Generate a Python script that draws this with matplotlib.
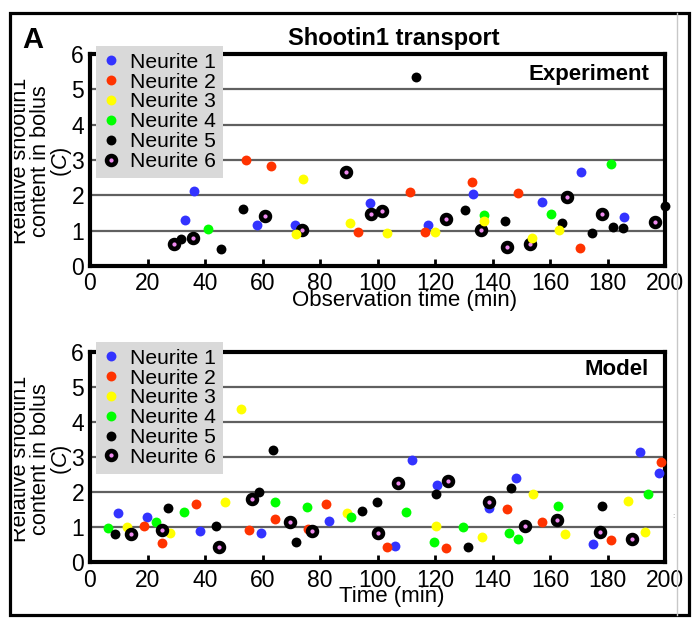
import matplotlib
matplotlib.use('Agg')
import matplotlib.pyplot as plt
from matplotlib.patches import Rectangle
from matplotlib.lines import Line2D
from matplotlib.transforms import Bbox, TransformedBbox

plt.rcParams['font.family'] = ['Liberation Sans', 'DejaVu Sans']
plt.rcParams['mathtext.fontset'] = 'custom'
plt.rcParams['mathtext.it'] = 'Liberation Sans:italic'
plt.rcParams['mathtext.rm'] = 'Liberation Sans'

# ---------------- data ----------------
labels = ['Neurite 1', 'Neurite 2', 'Neurite 3', 'Neurite 4', 'Neurite 5', 'Neurite 6']
colors = ['#3333FF', '#FF3300', '#FFFF00', '#00FF00', '#000000', '#F08AF0']
x_ticks = [0, 20, 40, 60, 80, 100, 120, 140, 160, 180, 200]
y_ticks = [0, 1, 2, 3, 4, 5, 6]

# Experiment (observation time in min, relative content C)
exp_n1_t = [33.2, 36.2, 58.1, 71.2, 97.5, 117.4, 133.1, 157.3, 170.8, 185.6]
exp_n1_c = [1.30, 2.12, 1.15, 1.15, 1.77, 1.15, 2.04, 1.82, 2.67, 1.40]
exp_n2_t = [54.3, 63.0, 93.1, 111.2, 116.4, 133.0, 148.9, 170.4]
exp_n2_c = [3.00, 2.84, 0.96, 2.09, 0.97, 2.38, 2.07, 0.52]
exp_n3_t = [71.8, 74.0, 90.3, 103.2, 120.1, 137.2, 153.7, 163.3]
exp_n3_c = [0.91, 2.46, 1.21, 0.93, 0.96, 1.26, 0.79, 1.02]
exp_n4_t = [41.0, 137.2, 160.2, 181.2]
exp_n4_c = [1.05, 1.45, 1.47, 2.89]
exp_n5_t = [31.5, 45.7, 53.2, 113.3, 130.4, 144.3, 164.2, 174.5, 182.0, 185.5, 200.0]
exp_n5_c = [0.77, 0.48, 1.62, 5.35, 1.58, 1.27, 1.22, 0.94, 1.09, 1.07, 1.70]
exp_n6_t = [29.2, 35.7, 60.9, 73.6, 89.0, 97.9, 101.6, 123.8, 136.0, 145.2, 153.2, 165.9, 178.1, 196.5]
exp_n6_c = [0.63, 0.80, 1.42, 1.02, 2.65, 1.48, 1.56, 1.34, 1.02, 0.54, 0.63, 1.96, 1.48, 1.25]

# Model (time in min, relative content C)
mod_n1_t = [9.6, 19.8, 38.1, 59.4, 83.1, 106.0, 111.9, 120.6, 138.8, 148.2, 174.8, 191.3, 197.9]
mod_n1_c = [1.40, 1.30, 0.89, 0.85, 1.18, 0.46, 2.91, 2.21, 1.54, 2.40, 0.53, 3.15, 2.54]
mod_n2_t = [18.7, 25.2, 37.0, 55.3, 64.3, 75.7, 82.1, 103.3, 123.8, 144.9, 157.3, 181.2, 198.5]
mod_n2_c = [1.03, 0.54, 1.67, 0.92, 1.24, 0.96, 1.65, 0.43, 0.41, 1.51, 1.14, 0.64, 2.85]
mod_n3_t = [13.0, 27.8, 47.0, 52.5, 89.4, 120.5, 136.3, 154.1, 165.3, 187.0, 193.2]
mod_n3_c = [1.02, 0.84, 1.71, 4.37, 1.40, 1.03, 0.73, 1.96, 0.80, 1.75, 0.87]
mod_n4_t = [6.1, 23.1, 32.8, 64.2, 75.4, 90.9, 109.8, 119.5, 129.7, 145.6, 148.9, 162.7, 194.2]
mod_n4_c = [0.98, 1.16, 1.44, 1.72, 1.57, 1.30, 1.44, 0.59, 1.01, 0.83, 0.66, 1.62, 1.94]
mod_n5_t = [8.7, 27.1, 43.7, 58.8, 63.5, 71.7, 94.6, 99.7, 120.3, 131.4, 146.4, 178.2]
mod_n5_c = [0.81, 1.55, 1.05, 2.01, 3.20, 0.59, 1.46, 1.71, 1.94, 0.44, 2.12, 1.60]
mod_n6_t = [14.1, 24.9, 45.0, 56.2, 69.6, 77.3, 100.1, 107.0, 124.4, 138.9, 151.3, 162.5, 177.5, 188.5]
mod_n6_c = [0.81, 0.91, 0.45, 1.82, 1.14, 0.89, 0.85, 2.27, 2.32, 1.73, 1.03, 1.22, 0.87, 0.68]

exp_series = [(exp_n1_t, exp_n1_c), (exp_n2_t, exp_n2_c), (exp_n3_t, exp_n3_c),
              (exp_n4_t, exp_n4_c), (exp_n5_t, exp_n5_c), (exp_n6_t, exp_n6_c)]
mod_series = [(mod_n1_t, mod_n1_c), (mod_n2_t, mod_n2_c), (mod_n3_t, mod_n3_c),
              (mod_n4_t, mod_n4_c), (mod_n5_t, mod_n5_c), (mod_n6_t, mod_n6_c)]

# ---------------- layout ----------------
W, H = 693, 619
fig = plt.figure(figsize=(W / 100, H / 100), dpi=100)


def fx(px):
    return px / W


def fy(py):
    return 1 - py / H


TICK_FS = 16.5
LEG_FS = 15.2


def style_axes(ax):
    ax.set_xlim(0, 200)
    ax.set_ylim(0, 6)
    ax.set_xticks(x_ticks)
    ax.set_yticks(y_ticks)
    ax.grid(axis='y', color='#606060', lw=1.6)
    ax.set_axisbelow(True)
    for s in ax.spines.values():
        s.set_linewidth(3)
        s.set_color('black')
    ax.tick_params(axis='x', direction='in', length=5, width=2, pad=4.5, labelsize=TICK_FS)
    ax.tick_params(axis='y', length=0, pad=4.3, labelsize=TICK_FS)


def draw_series(ax, series, order):
    handles = [None] * 6
    for i in order:
        t, c = series[i]
        if i == 5:
            ln, = ax.plot(t, c, 'o', ls='none', ms=6.4, mfc=colors[5], mec='black', mew=3.3,
                          clip_on=False, zorder=3, label=labels[i])
        else:
            ln, = ax.plot(t, c, 'o', ls='none', ms=7.1, mfc=colors[i], mec=colors[i], mew=0,
                          clip_on=False, zorder=3, label=labels[i])
        handles[i] = ln
    return handles


def add_legend(ax, handles, anchor_y):
    leg = ax.legend(handles=handles, labels=labels, loc='upper left',
                    bbox_to_anchor=(0.0099, anchor_y), borderaxespad=0,
                    fontsize=LEG_FS, frameon=True, fancybox=False, framealpha=1,
                    facecolor='#d9d9d9', edgecolor='#d9d9d9', borderpad=0.33,
                    handlelength=0.8, handletextpad=0.48, labelspacing=0.04)
    leg.get_frame().set_linewidth(0)
    leg.set_zorder(10)
    return leg


def add_ylabel(center_py):
    t1 = fig.text(fx(26.5), fy(center_py), 'Relative shootin1', rotation=90,
                  rotation_mode='anchor', ha='center', va='baseline', fontsize=15.7)
    clip = TransformedBbox(Bbox.from_extents(fx(14), 0, 1, 1), fig.transFigure)
    t1.set_clip_box(clip)
    t1.set_clip_on(True)
    fig.text(fx(46.5), fy(center_py), 'content in bolus', rotation=90,
             rotation_mode='anchor', ha='center', va='baseline', fontsize=15.7)
    fig.text(fx(67), fy(center_py + 1), r'($\mathit{C}$)', rotation=90,
             rotation_mode='anchor', ha='center', va='baseline', fontsize=15.7)


# top axes: Experiment
ax1 = fig.add_axes([fx(90), fy(266), 575 / W, 212 / H])
style_axes(ax1)
h1 = draw_series(ax1, exp_series, [0, 1, 3, 4, 5, 2])
add_legend(ax1, h1, (266 - 45.7) / 212)
ax1.text(0.972, 0.903, 'Experiment', transform=ax1.transAxes, ha='right', va='center',
         fontsize=16, fontweight='bold')
fig.text(fx(405), fy(306), 'Observation time (min)', ha='center', va='baseline', fontsize=16)
add_ylabel(161)

# bottom axes: Model
ax2 = fig.add_axes([fx(90), fy(562.4), 575 / W, 210.6 / H])
style_axes(ax2)
h2 = draw_series(ax2, mod_series, [0, 1, 2, 3, 4, 5])
add_legend(ax2, h2, (562.4 - 341.7) / 210.6)
ax2.text(0.972, 0.914, 'Model', transform=ax2.transAxes, ha='right', va='center',
         fontsize=16, fontweight='bold')
fig.text(fx(392), fy(602), 'Time (min)', ha='center', va='baseline', fontsize=16)
add_ylabel(459)

# title and panel letter
fig.text(fx(394), fy(45), 'Shootin1 transport', ha='center', va='baseline',
         fontsize=17, fontweight='bold')
fig.text(fx(22), fy(48), 'A', ha='left', va='baseline', fontsize=21, fontweight='bold')

# small stray mark at right of lower panel
fig.text(fx(673), fy(516), ':', ha='center', va='center', fontsize=6, color='#888888')

# figure frame
fig.add_artist(Rectangle((fx(10), fy(615)), fx(689) - fx(10), fy(13) - fy(615),
                         transform=fig.transFigure, fill=False, ec='black', lw=2.3))
fig.add_artist(Line2D([fx(677), fx(677)], [fy(13), fy(615)], transform=fig.transFigure,
                      color='#c8c8c8', lw=1))

fig.savefig('out.png', dpi=100)
